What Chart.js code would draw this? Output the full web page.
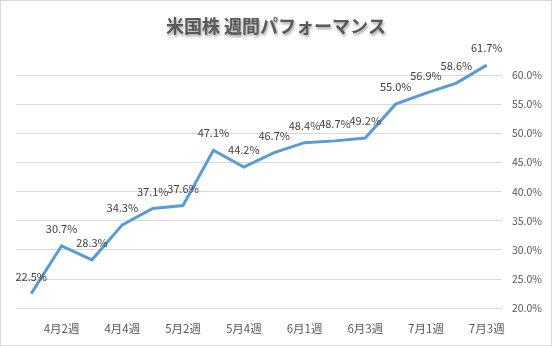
<!DOCTYPE html>
<html>
<head>
<meta charset="utf-8">
<script src="https://cdn.jsdelivr.net/npm/chart.js@4"></script>
<style>
  html, body { margin: 0; padding: 0; background: #fff; }
  #wrap { width: 552px; height: 346px; }
</style>
</head>
<body>
<div id="wrap"><canvas id="perfChart" width="552" height="346"></canvas></div>
<script>
var chartTitle = '米国株 週間パフォーマンス'
var weekLabels = ['4月1週', '4月2週', '4月3週', '4月4週', '5月1週', '5月2週', '5月3週', '5月4週',
    '5月5週', '6月1週', '6月2週', '6月3週', '6月4週', '7月1週', '7月2週', '7月3週']
var weeklyPerformance = [0.225, 0.307, 0.283, 0.343, 0.371, 0.376, 0.471, 0.442,
    0.467, 0.484, 0.487, 0.492, 0.550, 0.569, 0.586, 0.617]
var yTickMin = 0.20
var yTickMax = 0.60
var yTickStep = 0.05

var fontFamily = '"Noto Sans CJK JP", "Noto Sans", sans-serif'

function pct(v) {
    return (v * 100).toFixed(1) + '%'
}

// draws the title, the value labels above the line and the outer border
var decorPlugin = {
    id: 'decor',
    afterDatasetsDraw: function (chart) {
        var ctx = chart.ctx
        var meta = chart.getDatasetMeta(0)
        ctx.save()
        ctx.font = '11px ' + fontFamily
        ctx.fillStyle = '#404040'
        ctx.textAlign = 'center'
        ctx.textBaseline = 'middle'
        meta.data.forEach(function (pt, i) {
            ctx.fillText(pct(weeklyPerformance[i]), pt.x, pt.y - 17)
        })
        ctx.restore()
    },
    afterDraw: function (chart) {
        var ctx = chart.ctx
        ctx.save()
        ctx.font = 'bold 18px ' + fontFamily
        ctx.textAlign = 'center'
        ctx.textBaseline = 'middle'
        ctx.shadowColor = 'rgba(0,0,0,0.4)'
        ctx.shadowBlur = 3
        ctx.shadowOffsetX = 1
        ctx.shadowOffsetY = 2
        ctx.fillStyle = '#595959'
        ctx.fillText(chartTitle, chart.width / 2, 26)
        ctx.restore()

        ctx.save()
        ctx.strokeStyle = '#d9d9d9'
        ctx.lineWidth = 1
        ctx.strokeRect(0.5, 0.5, chart.width - 1, chart.height - 1)
        ctx.restore()
    }
}

var perfCanvas = document.getElementById('perfChart').getContext('2d')

var perfChart = new Chart(perfCanvas, {
    type: 'line',
    data: {
        labels: weekLabels,
        datasets: [
            {
                data: weeklyPerformance,
                borderColor: '#5B9BD5',
                borderWidth: 3,
                pointRadius: 0,
                tension: 0,
                fill: false,
                clip: false
            }
        ]
    },
    options: {
        responsive: false,
        animation: false,
        layout: {
            padding: { top: 75, left: 16, right: 0, bottom: -4 }
        },
        plugins: {
            legend: { display: false },
            title: { display: false },
            tooltip: { enabled: false }
        },
        scales: {
            x: {
                offset: true,
                grid: { display: false, drawTicks: false },
                border: { display: false },
                ticks: {
                    autoSkip: false,
                    maxRotation: 0,
                    padding: 14,
                    color: '#595959',
                    font: { family: fontFamily, size: 11.5 },
                    callback: function (val, i) {
                        return i % 2 === 1 ? weekLabels[i] : ''
                    }
                }
            },
            y: {
                position: 'right',
                min: yTickMin,
                max: yTickMax,
                grid: { color: '#d9d9d9', lineWidth: 1, drawTicks: false },
                border: { display: false },
                ticks: {
                    stepSize: yTickStep,
                    padding: 10,
                    color: '#595959',
                    font: { family: fontFamily, size: 10.5 },
                    callback: function (v) { return pct(v) }
                }
            }
        }
    },
    plugins: [decorPlugin]
})
</script>
</body>
</html>
